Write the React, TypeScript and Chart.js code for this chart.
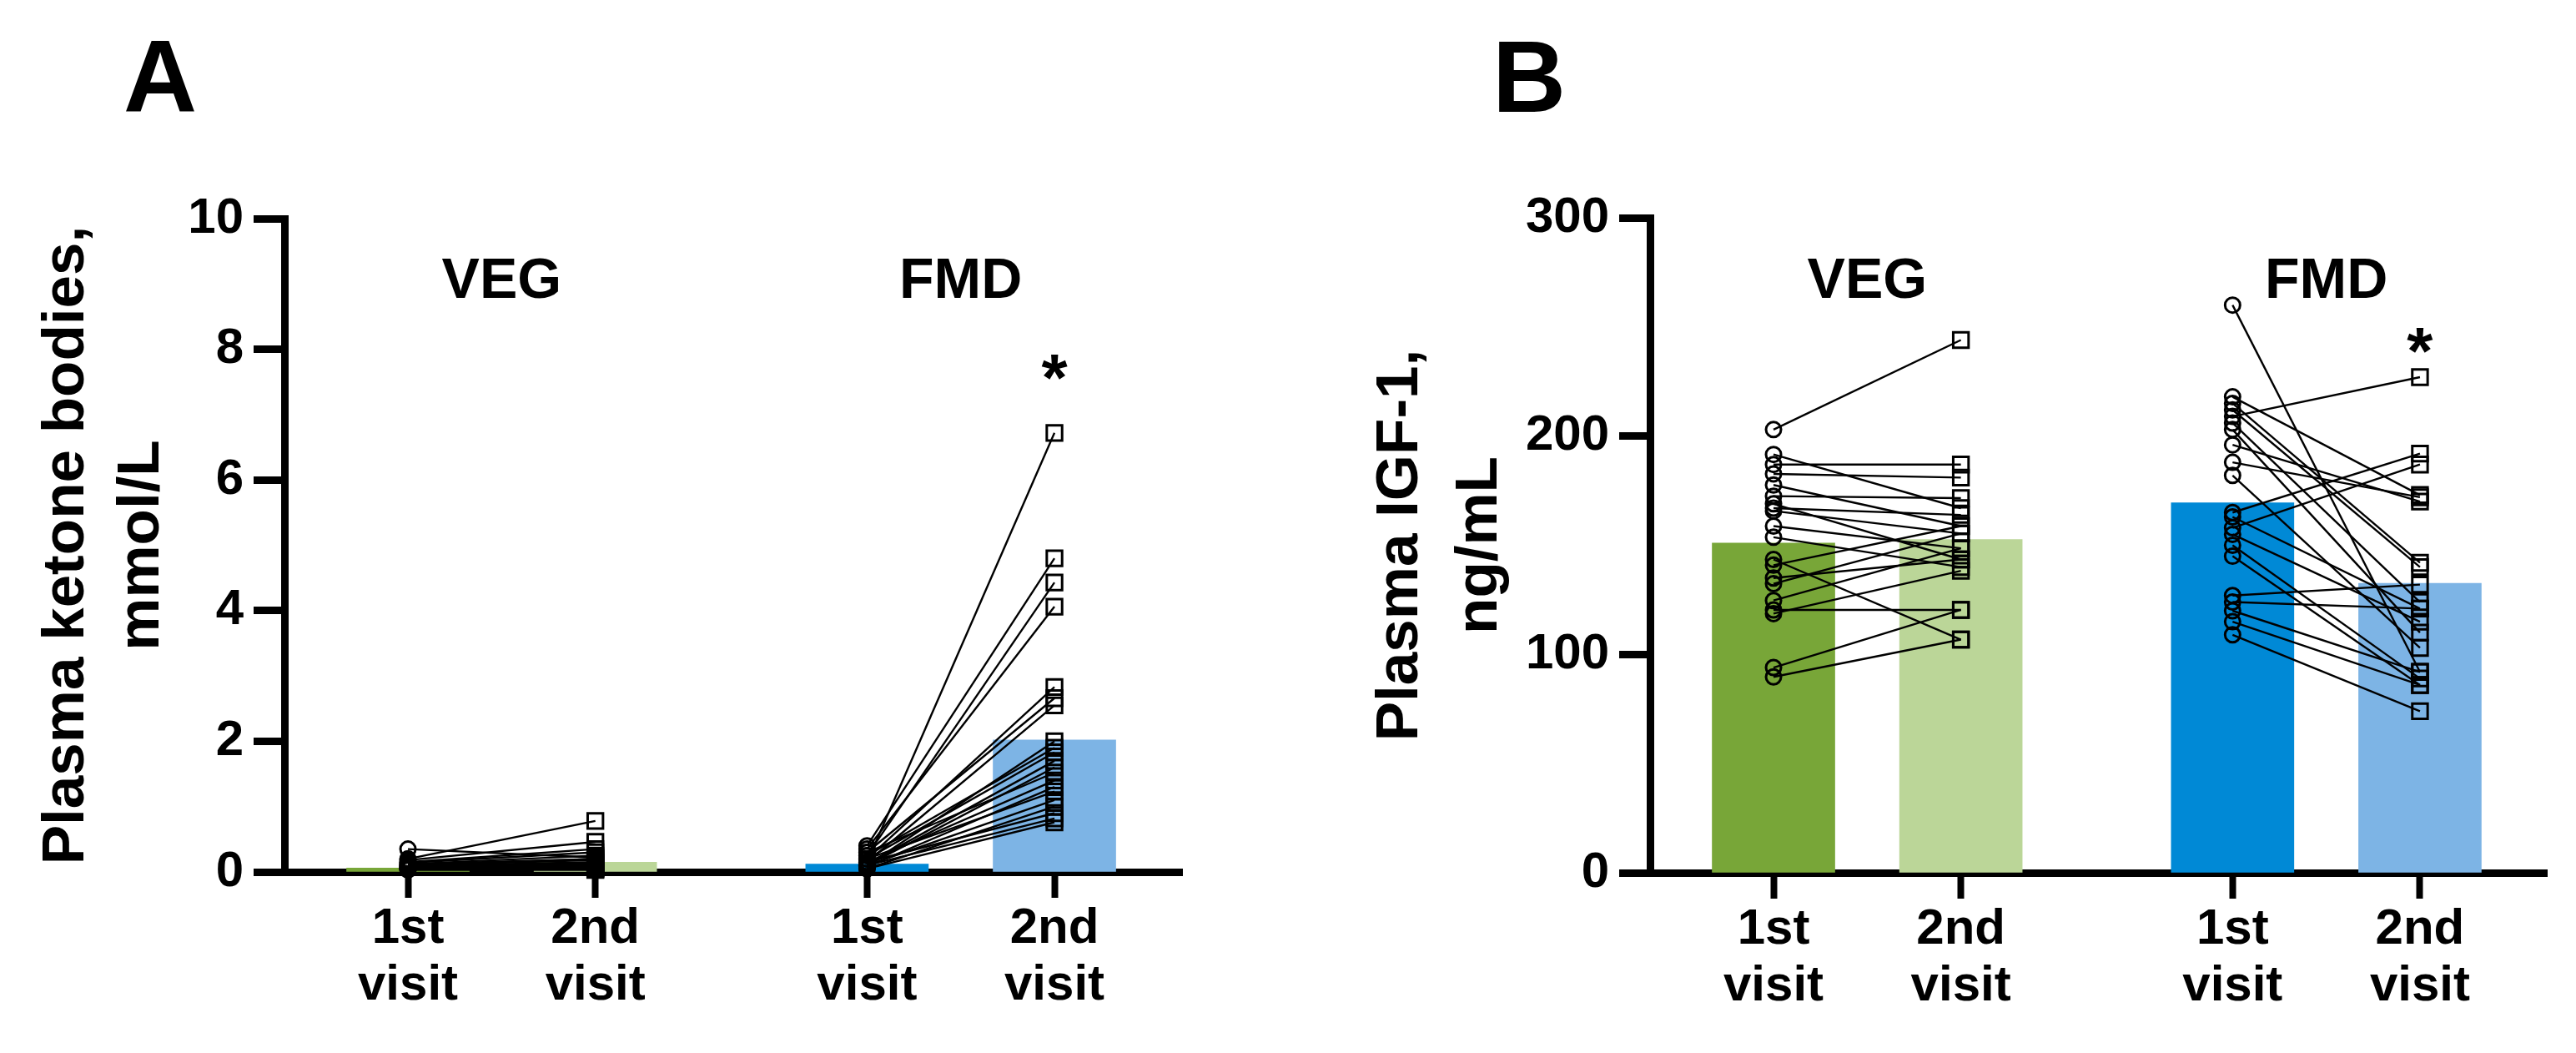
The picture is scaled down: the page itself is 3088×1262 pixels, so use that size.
import React, { useEffect, useRef } from 'react';
import { Chart, registerables } from 'chart.js';
Chart.register(...registerables);

// ---------- shared categories ----------
const xTickValues = [1, 2, 3.45, 4.45];
const xTickLabels = [['1st', 'visit'], ['2nd', 'visit'], ['1st', 'visit'], ['2nd', 'visit']];
const groupLabels = ['VEG', 'FMD'];
const groupCenters = [1.5, 3.95];
const barColors = ['#78A638', '#BBD698', '#0089D6', '#7DB4E5'];

// ---------- Panel A: plasma ketone bodies (mmol/L) ----------
const ketoneBarMeans = [0.06, 0.15, 0.12, 2.02];
const ketoneVeg1st = [0.35, 0.2, 0.18, 0.15, 0.14, 0.12, 0.12, 0.1, 0.1, 0.09, 0.08, 0.08, 0.07, 0.06, 0.06, 0.05, 0.05, 0.04, 0.04, 0.03];
const ketoneVeg2nd = [0.22, 0.78, 0.46, 0.35, 0.3, 0.25, 0.2, 0.2, 0.18, 0.15, 0.14, 0.12, 0.1, 0.1, 0.08, 0.07, 0.06, 0.05, 0.04, 0.03];
const ketoneFmd1st = [0.15, 0.4, 0.25, 0.35, 0.2, 0.3, 0.15, 0.1, 0.25, 0.2, 0.12, 0.1, 0.3, 0.15, 0.08, 0.2, 0.1, 0.05, 0.15, 0.1, 0.05];
const ketoneFmd2nd = [6.72, 4.8, 4.43, 4.06, 2.83, 2.66, 2.55, 2.0, 1.9, 1.83, 1.7, 1.6, 1.52, 1.4, 1.3, 1.23, 1.1, 1.0, 0.9, 0.82, 0.76];
const ketoneTicks = [0, 2, 4, 6, 8, 10];

// ---------- Panel B: plasma IGF-1 (ng/mL) ----------
const igfBarMeans = [151, 152.6, 169.5, 132.6];
const igfVeg1st = [203, 191.6, 187, 182.7, 177.6, 172.5, 169, 167, 165.7, 158.8, 153.7, 143.5, 140.9, 135, 132.4, 124.7, 120.4, 118.7, 94, 89.7];
const igfVeg2nd = [244, 167, 187, 181, 158.8, 171.6, 143.5, 163.9, 155.4, 148.6, 140, 106.8, 158.8, 143.5, 155.4, 148.6, 120.4, 138.3, 120.4, 106.8];
const igfFmd1st = [260, 218, 215, 212, 209, 206, 203, 196, 188, 182, 165, 163, 158, 155, 150, 145, 127, 124, 120, 115, 109];
const igfFmd2nd = [92, 173, 142, 140, 227, 124, 110, 170, 172, 103, 192, 121, 187, 115, 89, 86, 132, 121, 92, 86, 74];
const igfTicks = [0, 100, 200, 300];

const FONT = "'Liberation Sans', Arial, Helvetica, sans-serif";

const annotPlugin = {
  id: 'annot',
  afterDraw(chart: any, _args: any, o: any) {
    const { ctx } = chart;
    const x = chart.scales.x;
    ctx.save();
    ctx.fillStyle = '#000';
    ctx.textAlign = 'center';
    ctx.textBaseline = 'alphabetic';
    ctx.font = `bold 68px ${FONT}`;
    groupLabels.forEach((t, i) => ctx.fillText(t, x.getPixelForValue(groupCenters[i]), o.groupBaseline));
    ctx.font = `bold 80px ${FONT}`;
    ctx.fillText('*', x.getPixelForValue(xTickValues[3]), o.starBaseline);
    ctx.textAlign = 'left';
    ctx.font = `bold 122px ${FONT}`;
    ctx.fillText(o.letter, o.letterX, o.letterBaseline);
    ctx.restore();
  },
};

function pairDatasets(a: number[], b: number[], x1: number, x2: number) {
  return a.map((v, i) => ({
    type: 'line',
    data: [{ x: x1, y: v }, { x: x2, y: b[i] }],
    borderColor: '#000',
    borderWidth: 2.4,
    pointStyle: ['circle', 'rect'],
    pointRadius: [9, 13],
    pointBorderWidth: 3,
    pointBorderColor: '#000',
    pointBackgroundColor: 'rgba(255,255,255,0)',
    order: 0,
    clip: false,
  }));
}

function makeConfig(p: any) {
  const datasets: any[] = [
    {
      type: 'bar',
      data: xTickValues.map((x, i) => ({ x, y: p.bars[i] })),
      backgroundColor: barColors,
      barThickness: 147,
      borderWidth: 0,
      order: 10,
    },
    ...pairDatasets(p.veg1, p.veg2, xTickValues[0], xTickValues[1]),
    ...pairDatasets(p.fmd1, p.fmd2, xTickValues[2], xTickValues[3]),
  ];
  return {
    type: 'bar',
    data: { datasets },
    plugins: [annotPlugin],
    options: {
      animation: false,
      responsive: false,
      devicePixelRatio: 1,
      layout: { padding: { top: p.top, right: p.padRight, left: 0, bottom: 0 } },
      plugins: {
        legend: { display: false },
        tooltip: { enabled: false },
        annot: p.annot,
      },
      scales: {
        x: {
          type: 'linear',
          min: 0.341,
          max: p.xMax,
          offset: false,
          afterBuildTicks: (s: any) => { s.ticks = xTickValues.map((v) => ({ value: v })); },
          afterFit: (s: any) => { s.height = p.xHeight; },
          ticks: {
            autoSkip: false,
            maxRotation: 0,
            padding: 4,
            color: '#000',
            font: { family: FONT, size: 60, weight: 'bold', lineHeight: 1.13 },
            callback: (_v: any, i: number) => xTickLabels[i],
          },
          grid: { offset: false, drawOnChartArea: false, drawTicks: true, tickLength: 31, tickWidth: 8, tickColor: '#000', color: '#000' },
          border: { display: true, width: 9, color: '#000' },
        },
        y: {
          min: 0,
          max: p.yMax,
          afterBuildTicks: (s: any) => { s.ticks = p.yTicks.map((v: number) => ({ value: v })); },
          afterFit: (s: any) => { s.width = p.yWidth; },
          ticks: {
            padding: 12,
            color: '#000',
            font: { family: FONT, size: 60, weight: 'bold' },
          },
          grid: { offset: false, drawOnChartArea: false, drawTicks: true, tickLength: 37, tickWidth: 9, tickColor: '#000', color: '#000' },
          border: { display: true, width: 9, color: '#000' },
          title: {
            display: true,
            text: p.yTitle,
            color: '#000',
            font: { family: FONT, size: 71, weight: 'bold', lineHeight: p.titleLH },
            padding: { top: p.titlePad, bottom: 0 },
          },
        },
      },
    },
  };
}

const panelA = {
  bars: ketoneBarMeans, veg1: ketoneVeg1st, veg2: ketoneVeg2nd, fmd1: ketoneFmd1st, fmd2: ketoneFmd2nd,
  yMax: 10, yTicks: ketoneTicks, yTitle: ['Plasma ketone bodies,', 'mmol/L'],
  top: 262, padRight: 127, xMax: 5.131, xHeight: 217, yWidth: 341, titlePad: 35, titleLH: 1.27,
  annot: { groupBaseline: 357, starBaseline: 480, letter: 'A', letterX: 148, letterBaseline: 134 },
};

const panelB = {
  bars: igfBarMeans, veg1: igfVeg1st, veg2: igfVeg2nd, fmd1: igfFmd1st, fmd2: igfFmd2nd,
  yMax: 300, yTicks: igfTicks, yTitle: ['Plasma IGF-1,', 'ng/mL'],
  top: 261, padRight: 35, xMax: 5.127, xHeight: 216, yWidth: 434, titlePad: 87, titleLH: 1.35,
  annot: { groupBaseline: 357, starBaseline: 448, letter: 'B', letterX: 245, letterBaseline: 134 },
};

function Panel({ p, left }: { p: any; left: number }) {
  const ref = useRef<HTMLCanvasElement | null>(null);
  useEffect(() => {
    if (!ref.current) return;
    const chart = new Chart(ref.current, makeConfig(p) as any);
    return () => chart.destroy();
  }, []);
  return (
    <canvas
      ref={ref}
      width={1544}
      height={1262}
      style={{ position: 'absolute', left, top: 0, width: 1544, height: 1262 }}
    />
  );
}

export default function App() {
  return (
    <div style={{ position: 'absolute', left: 0, top: 0, width: 3088, height: 1262, background: '#fff', overflow: 'hidden' }}>
      <Panel p={panelA} left={0} />
      <Panel p={panelB} left={1544} />
    </div>
  );
}
